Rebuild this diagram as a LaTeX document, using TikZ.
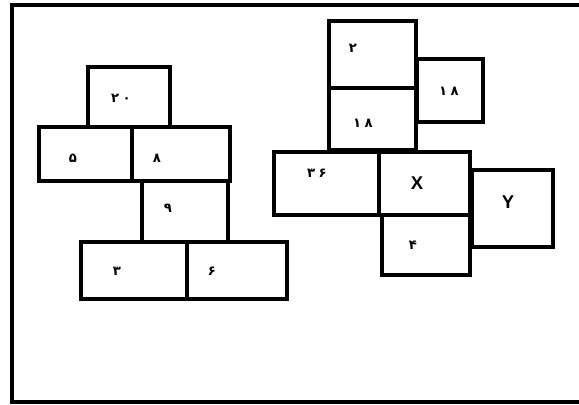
\documentclass[tikz,border=0pt]{standalone}
\usepackage{fontspec}
\newfontfamily\farsi[Script=Arabic]{DejaVu Sans}
\newfontfamily\latin{Liberation Sans}
\usepackage{tikz}

\tikzset{
	box/.style={line width=2pt, line join=miter},
	num/.style={font=\farsi\bfseries\fontsize{7.5}{8}\selectfont, inner sep=0pt},
	var/.style={font=\latin\bfseries\fontsize{10.5}{11}\selectfont, inner sep=0pt}
}

\begin{document}
\begin{tikzpicture}[x=0.02cm, y=-0.02cm]
	\useasboundingbox (0,0) rectangle (579,405);
	%frame
	\draw[line width=2pt] (579,5) -| (12,402) -- (579,402);
	
	%left blocks
	\draw[box] (88,67) rectangle (170,127);
	\draw[box] (39,127) rectangle (132,181);
	\draw[box] (132,127) rectangle (230,181);
	\draw[box] (142,181) rectangle (228,242);
	\draw[box] (81,242) rectangle (187,299);
	\draw[box] (187,242) rectangle (287,299);
	
	%right blocks
	\draw[box] (329,21) rectangle (416,88);
	\draw[box] (329,88) rectangle (416,150);
	\draw[box] (417,59) rectangle (483,122);
	\draw[box] (274,152) rectangle (379,215);
	\draw[box] (379,152) rectangle (470,215);
	\draw[box] (382,215) rectangle (470,275);
	\draw[box] (472,170) rectangle (553,247);
	
	%labels
	\node[num] (n20) at (121,98)  {۲\kern2pt۰};
	\node[num] (n5)  at (73,158)  {۵};
	\node[num] (n8)  at (157,158) {۸};
	\node[num] (n9)  at (168,208) {۹};
	\node[num] (n3)  at (117,271) {۳};
	\node[num] (n6)  at (212,271) {۶};
	%
	\node[num] (n2)   at (353,48)  {۲};
	\node[num] (n18a) at (363,123) {۱\kern2pt۸};
	\node[num] (n18b) at (449,91)  {۱\kern2pt۸};
	\node[num] (n36)  at (317,173) {۳\kern2pt۶};
	\node[num] (n4)   at (413,245) {۴};
	\node[var] (x)    at (417,183) {X};
	\node[var] (y)    at (508,202) {Y};
\end{tikzpicture}
\end{document}
